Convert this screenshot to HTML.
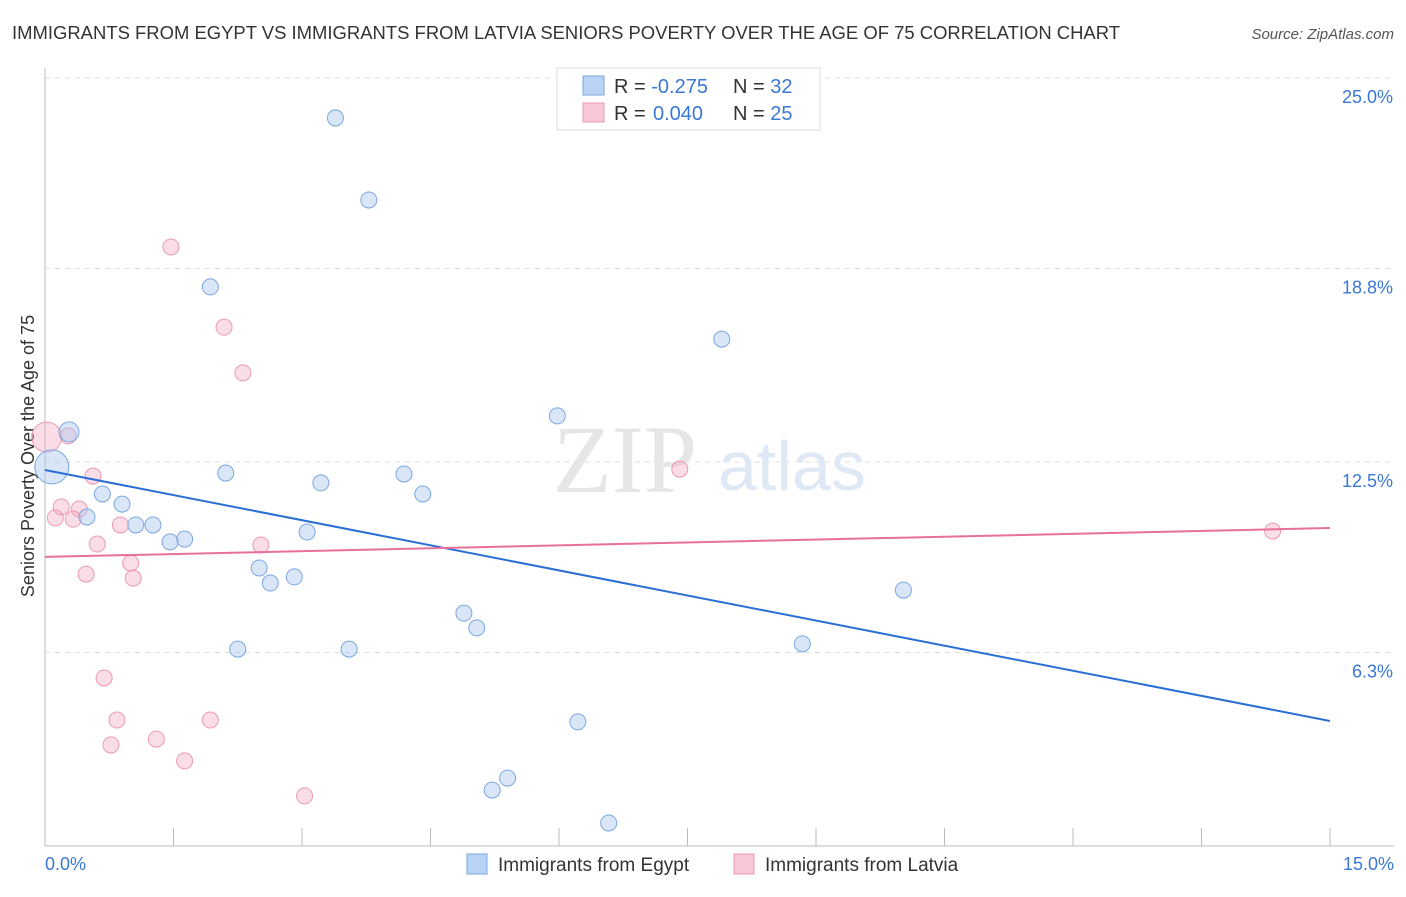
<!DOCTYPE html>
<html><head><meta charset="utf-8"><style>
body{margin:0;background:#fff;font-family:"Liberation Sans",sans-serif;}
</style></head><body>
<svg width="1406" height="892" viewBox="0 0 1406 892" xmlns="http://www.w3.org/2000/svg" font-family="Liberation Sans, sans-serif">
<text x="12" y="39" font-size="18" fill="#333" textLength="1108" lengthAdjust="spacingAndGlyphs">IMMIGRANTS FROM EGYPT VS IMMIGRANTS FROM LATVIA SENIORS POVERTY OVER THE AGE OF 75 CORRELATION CHART</text>
<text x="1394" y="39" font-size="15" fill="#555" font-style="italic" text-anchor="end">Source: ZipAtlas.com</text>
<g id="grid"></g>
<text x="553" y="492" font-size="96" fill="#e6e6e6" font-family="Liberation Serif, serif">ZIP</text>
<text x="718" y="490" font-size="70" fill="#dfe8f5">atlas</text>
<line x1="45" y1="68" x2="45" y2="846" stroke="#bbb"/>
<line x1="45" y1="846" x2="1394" y2="846" stroke="#bbb"/>
<g id="ticks"></g>
<text transform="translate(34,456) rotate(-90)" font-size="18" fill="#333" text-anchor="middle">Seniors Poverty Over the Age of 75</text>
<text x="45" y="870" font-size="18" fill="#3a78d4">0.0%</text>
<text x="1394" y="870" font-size="18" fill="#3a78d4" text-anchor="end">15.0%</text>
<g id="points"></g>
<g id="lines"></g>
<g>
<rect x="557" y="68" width="263" height="62" fill="#fff" stroke="#ddd"/>
<rect x="583" y="76" width="21" height="19" fill="#b9d3f5" stroke="#7aa7e0"/>
<rect x="583" y="103" width="21" height="19" fill="#f9c6d5" stroke="#eb9ab3"/>
<text x="614" y="93" font-size="20" fill="#333">R = <tspan fill="#3a78d4">-0.275</tspan><tspan x="733">N = </tspan><tspan fill="#3a78d4">32</tspan></text>
<text x="614" y="120" font-size="20" fill="#333">R = <tspan fill="#3a78d4" x="653">0.040</tspan><tspan x="733">N = </tspan><tspan fill="#3a78d4">25</tspan></text>
</g>
<g>
<rect x="467" y="854" width="20" height="20" fill="#b9d3f5" stroke="#7aa7e0"/>
<text x="498" y="871" font-size="19" fill="#333">Immigrants from Egypt</text></g>
<g>
<rect x="734" y="854" width="20" height="20" fill="#f9c6d5" stroke="#eb9ab3"/>
<text x="765" y="871" font-size="19" fill="#333">Immigrants from Latvia</text></g>
</svg>
<script>
const yTicks=[25.0,18.8,12.5,6.3];
const yTickLabels=["25.0%","18.8%","12.5%","6.3%"];
const xTicks=[0,1.5,3,4.5,6,7.5,9,10.5,12,13.5,15];
const egyptX=[3.39,3.78,1.93,7.90,5.98,0.28,0.08,2.11,4.19,3.22,4.41,0.67,0.90,0.49,1.06,1.26,3.06,1.63,1.46,2.50,2.91,2.63,10.02,4.89,5.04,2.25,3.55,8.84,6.22,5.40,5.22,6.58];
const egyptY=[23.70,21.03,18.20,16.50,14.0,13.48,12.34,12.14,12.11,11.82,11.46,11.46,11.13,10.71,10.45,10.45,10.22,9.99,9.90,9.05,8.76,8.56,8.33,7.58,7.10,6.41,6.41,6.58,4.04,2.21,1.82,0.75];
const egyptR=[8,8,8,8,8,10,17,8,8,8,8,8,8,8,8,8,8,8,8,8,8,8,8,8,8,8,8,8,8,8,8,8];
const latviaX=[1.47,2.09,2.31,0.02,0.27,0.56,7.41,0.19,0.40,0.12,0.33,0.88,0.61,2.52,1.00,0.48,1.03,14.33,0.69,0.84,1.93,0.77,1.30,1.63,3.03];
const latviaY=[19.50,16.89,15.40,13.31,13.35,12.04,12.27,11.04,10.97,10.68,10.64,10.45,9.83,9.80,9.21,8.85,8.72,10.25,5.47,4.10,4.10,3.29,3.48,2.77,1.63];
const latviaR=[8,8,8,15,8,8,8,8,8,8,8,8,8,8,8,8,8,8,8,8,8,8,8,8,8];
const egyptTrend=[12.24,4.07];
const latviaTrend=[9.41,10.35];
const NS="http://www.w3.org/2000/svg";
const X=v=>45+v/15*1285;
const Y=v=>846-v*30.72;
function mk(t,a,p){const e=document.createElementNS(NS,t);for(const k in a)e.setAttribute(k,a[k]);p.appendChild(e);return e;}
const grid=document.getElementById('grid');
yTicks.forEach((v,i)=>{
 const l=mk('line',{x1:45,x2:1394,y1:Y(v),y2:Y(v),stroke:'#ddd','stroke-dasharray':'5,5'},grid);
 
 
 const t=mk('text',{x:1393,y:Y(v)+25,'font-size':18,fill:'#3a78d4','text-anchor':'end'},grid);
 t.textContent=yTickLabels[i];
 
 
});
const tk=document.getElementById('ticks');
xTicks.forEach(v=>{
 const l=mk('line',{x1:X(v),x2:X(v),y1:828,y2:846,stroke:'#bbb'},tk);
 
 
});
const pts=document.getElementById('points');
latviaX.forEach((x,i)=>{
 const c=mk('circle',{cx:X(x),cy:Y(latviaY[i]),r:latviaR[i],fill:'rgba(245,170,195,0.4)',stroke:'#eb9ab3','stroke-width':1},pts);
 
 
});
egyptX.forEach((x,i)=>{
 const c=mk('circle',{cx:X(x),cy:Y(egyptY[i]),r:egyptR[i],fill:'rgba(170,200,240,0.45)',stroke:'#7aa7e0','stroke-width':1},pts);
 
 
});
const ln=document.getElementById('lines');
const a=mk('line',{x1:X(0),x2:X(15),y1:Y(egyptTrend[0]),y2:Y(egyptTrend[1]),stroke:'#2a6fd6','stroke-width':2},ln);


const b=mk('line',{x1:X(0),x2:X(15),y1:Y(latviaTrend[0]),y2:Y(latviaTrend[1]),stroke:'#e8709a','stroke-width':2},ln);


</script>
</body></html>
